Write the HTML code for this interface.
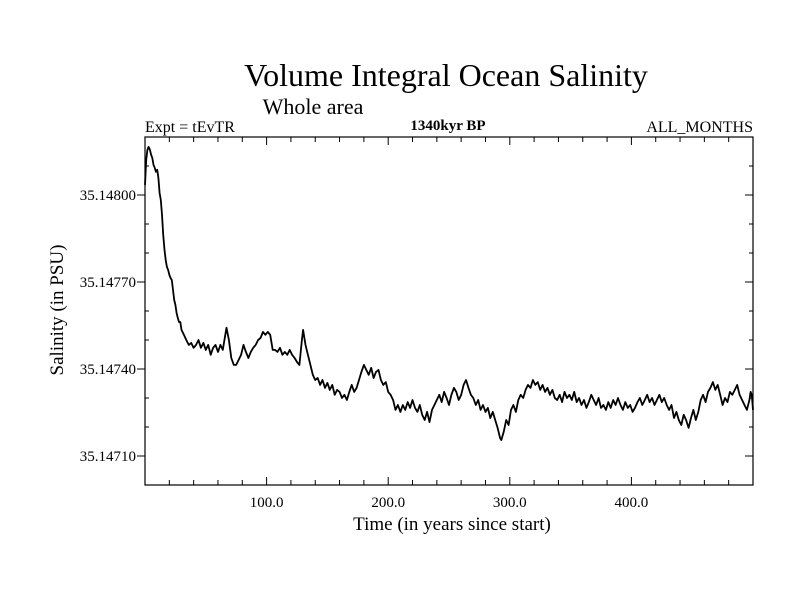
<!DOCTYPE html>
<html><head><meta charset="utf-8"><style>
body{margin:0;background:#fff;}
svg text{font-family:"Liberation Serif",serif;fill:#000;}
</style></head><body>
<svg id="chart" width="800" height="600" xmlns="http://www.w3.org/2000/svg">
<rect width="800" height="600" fill="#fff"/>
<text x="446" y="86" font-size="32" text-anchor="middle">Volume Integral Ocean Salinity</text>
<text x="313" y="114" font-size="22" text-anchor="middle">Whole area</text>
<text x="145" y="132" font-size="16">Expt = tEvTR</text>
<text x="448" y="130" font-size="15" font-weight="600" text-anchor="middle">1340kyr BP</text>
<text x="753" y="132" font-size="16" text-anchor="end">ALL_MONTHS</text>
<text x="452" y="530" font-size="19" text-anchor="middle">Time (in years since start)</text>
<text transform="translate(63,310) rotate(-90)" font-size="19" text-anchor="middle">Salinity (in PSU)</text>
<g id="axes"></g>
<path id="line" fill="none" stroke="#000" stroke-width="1.8" stroke-linejoin="round"/>
<rect x="145" y="137" width="608" height="348" fill="none" stroke="#000" stroke-width="1.2"/>
</svg>
<script>
const years=[0,1,2,3,4,5,6,7,8,9,10,11,12,13,14,15,16,17,18,19,20,21,22,23,24,25,26,27,28,29,30,32,34,36,38,40,42,44,46,48,50,52,54,56,58,60,62,64,66,67,69,71,73,75,77,79,81,83,85,87,89,91,93,95,97,99,101,103,105,107,109,111,113,115,117,119,121,123,125,127,129,130,132,134,136,138,140,142,144,146,148,150,152,154,156,158,160,162,164,166,168,170,172,174,176,178,180,182,184,186,188,190,192,194,196,198,200,202,204,206,208,210,212,214,216,218,220,222,224,226,228,230,232,234,236,238,240,242,244,246,248,250,252,254,256,258,260,262,264,266,268,270,272,274,276,278,280,282,284,286,288,290,292,293,295,297,299,301,303,305,307,309,311,313,315,317,319,321,323,325,327,329,331,333,335,337,339,341,343,345,347,349,351,353,355,357,359,361,363,365,367,369,371,373,375,377,379,381,383,385,387,389,391,393,395,397,399,401,403,405,407,409,411,413,415,417,419,421,423,425,427,429,431,433,435,437,439,441,443,445,447,449,451,453,455,457,459,461,463,465,467,469,471,473,475,477,479,481,483,485,487,489,491,493,495,497,498,499,500];
const salinity=[35.148035,35.148121,35.148156,35.148166,35.148156,35.148139,35.148128,35.148104,35.148094,35.148080,35.148087,35.148059,35.148007,35.147983,35.147932,35.147863,35.147811,35.147776,35.147752,35.147742,35.147725,35.147714,35.147707,35.147673,35.147638,35.147621,35.147593,35.147576,35.147562,35.147562,35.147535,35.147518,35.147500,35.147483,35.147490,35.147473,35.147483,35.147500,35.147473,35.147490,35.147466,35.147483,35.147449,35.147473,35.147483,35.147459,35.147483,35.147466,35.147518,35.147542,35.147500,35.147438,35.147414,35.147414,35.147431,35.147449,35.147483,35.147459,35.147438,35.147459,35.147473,35.147483,35.147500,35.147507,35.147528,35.147518,35.147528,35.147518,35.147466,35.147466,35.147459,35.147473,35.147449,35.147459,35.147449,35.147466,35.147449,35.147438,35.147424,35.147414,35.147500,35.147535,35.147483,35.147449,35.147414,35.147380,35.147362,35.147369,35.147345,35.147362,35.147335,35.147352,35.147328,35.147345,35.147311,35.147328,35.147321,35.147300,35.147311,35.147293,35.147321,35.147345,35.147321,35.147335,35.147362,35.147390,35.147414,35.147397,35.147380,35.147404,35.147369,35.147390,35.147397,35.147362,35.147345,35.147355,35.147321,35.147311,35.147293,35.147259,35.147276,35.147252,35.147276,35.147259,35.147286,35.147266,35.147293,35.147266,35.147252,35.147276,35.147242,35.147224,35.147252,35.147217,35.147259,35.147276,35.147293,35.147311,35.147286,35.147321,35.147300,35.147276,35.147311,35.147335,35.147321,35.147293,35.147311,35.147345,35.147362,35.147335,35.147311,35.147300,35.147276,35.147293,35.147259,35.147276,35.147252,35.147266,35.147231,35.147252,35.147224,35.147197,35.147162,35.147155,35.147183,35.147224,35.147207,35.147259,35.147276,35.147252,35.147293,35.147311,35.147300,35.147328,35.147345,35.147335,35.147362,35.147345,35.147355,35.147328,35.147345,35.147321,35.147335,35.147311,35.147328,35.147300,35.147293,35.147311,35.147286,35.147321,35.147300,35.147311,35.147293,35.147321,35.147286,35.147300,35.147276,35.147293,35.147266,35.147286,35.147311,35.147293,35.147276,35.147300,35.147266,35.147276,35.147259,35.147286,35.147266,35.147293,35.147276,35.147300,35.147276,35.147259,35.147286,35.147266,35.147276,35.147252,35.147266,35.147286,35.147300,35.147276,35.147293,35.147311,35.147286,35.147300,35.147276,35.147293,35.147311,35.147286,35.147300,35.147276,35.147259,35.147276,35.147231,35.147252,35.147224,35.147207,35.147242,35.147224,35.147197,35.147231,35.147259,35.147224,35.147252,35.147293,35.147311,35.147286,35.147321,35.147335,35.147355,35.147328,35.147345,35.147311,35.147276,35.147300,35.147286,35.147321,35.147311,35.147328,35.147345,35.147311,35.147293,35.147276,35.147259,35.147293,35.147321,35.147311,35.147259];
const xTicks=[100,200,300,400];
const xTickLabels=["100.0","200.0","300.0","400.0"];
const yTicks=[35.1471,35.1474,35.1477,35.148];
const yTickLabels=["35.14710","35.14740","35.14770","35.14800"];

const X0=145,X1=753,Y0=485,Y1=137,XMIN=0,XMAX=500,YMIN=35.147,YMAX=35.1482;
function xs(v){return X0+(v-XMIN)/(XMAX-XMIN)*(X1-X0);}
function ys(v){return Y0-(v-YMIN)/(YMAX-YMIN)*(Y0-Y1);}
const NS="http://www.w3.org/2000/svg";
const g=document.getElementById('axes');
function ln(x1,y1,x2,y2,name){const l=document.createElementNS(NS,'line');
l.setAttribute('x1',x1);l.setAttribute('y1',y1);l.setAttribute('x2',x2);l.setAttribute('y2',y2);
l.setAttribute('stroke','#000');l.setAttribute('stroke-width','1');


g.appendChild(l);}
function tx(x,y,s,anchor,name){const t=document.createElementNS(NS,'text');
t.setAttribute('x',x);t.setAttribute('y',y);t.setAttribute('font-size','15');t.setAttribute('text-anchor',anchor);t.textContent=s;


g.appendChild(t);}
for(let v=20;v<500;v+=20){const x=xs(v);const major=v%100===0;const L=major?8:5;
ln(x,Y0,x,Y0-L,'x-tick');ln(x,Y1,x,Y1+L,'x-tick-top');}
xTicks.forEach((v,i)=>tx(xs(v),507,xTickLabels[i],'middle','x-tick-label'));
for(let k=0;k<=12;k++){const v=YMIN+k*0.0001;const y=ys(v);const major=(k%3===1);
if(major){ln(X0-8,y,X0,y,'y-tick');ln(X1,y,X1-8,y,'y-tick-right');}
else{ln(X0,y,X0+4,y,'y-minor-tick');ln(X1,y,X1-4,y,'y-minor-tick-right');}}
yTicks.forEach((v,i)=>tx(136,ys(v)+5,yTickLabels[i],'end','y-tick-label'));
let d='';years.forEach((yr,i)=>{d+=(i?'L':'M')+xs(yr).toFixed(1)+' '+ys(salinity[i]).toFixed(1);});
document.getElementById('line').setAttribute('d',d);
</script>
</body></html>
